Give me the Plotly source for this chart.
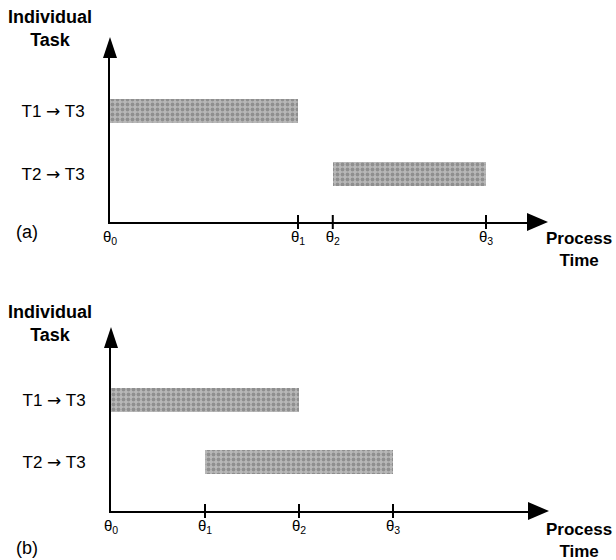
import plotly.graph_objects as go

# ---- data ----
tasks = ["T1 <span style='font-family:DejaVu Sans'>→</span> T3",
         "T2 <span style='font-family:DejaVu Sans'>→</span> T3"]
task_pos = [1, 0]
theta_labels = ["θ<sub>0</sub>", "θ<sub>1</sub>", "θ<sub>2</sub>", "θ<sub>3</sub>"]
theta_a = [0, 2, 2.37, 4]
theta_b = [0, 1, 2, 3]
start_a = [theta_a[0], theta_a[2]]
end_a = [theta_a[1], theta_a[3]]
start_b = [theta_b[0], theta_b[1]]
end_b = [theta_b[2], theta_b[3]]

W, H = 616, 560
FONT = "Liberation Sans, Arial, Helvetica, sans-serif"

def px(p):
    return p / W

def py(p):
    return 1 - p / H

fig = go.Figure()

pattern = dict(shape=".", fgcolor="#666666", bgcolor="#b8b8b8", size=5, solidity=0.45)

for starts, ends, xa, ya in [(start_a, end_a, "x", "y"), (start_b, end_b, "x2", "y2")]:
    fig.add_trace(go.Bar(
        orientation="h", y=task_pos, base=starts,
        x=[e - s for s, e in zip(starts, ends)],
        width=0.38, xaxis=xa, yaxis=ya,
        marker=dict(color="#b8b8b8", pattern=pattern, line=dict(width=0)),
        hoverinfo="skip", showlegend=False,
    ))

# panel geometry (pixels)
panels = {
    "a": dict(x0=110, x1=528, ybot=222, ytop=57, yunit=63, yrow0=174, theta=theta_a, xa="xaxis", ya="yaxis",
              xr="x", yr="y", label="(a)", label_y=232, title_y=28, pt_y=249),
    "b": dict(x0=111, x1=529, ybot=511, ytop=347, yunit=62, yrow0=462, theta=theta_b, xa="xaxis2", ya="yaxis2",
              xr="x2", yr="y2", label="(b)", label_y=548, title_y=323, pt_y=540),
}

UNIT = 94.0
shapes = []
annotations = []
for key, p in panels.items():
    fig.update_layout(**{
        p["xa"]: dict(
            domain=[px(p["x0"]), px(p["x1"])], range=[0, (p["x1"] - p["x0"]) / UNIT],
            anchor=p["yr"], showline=True, linecolor="black", linewidth=2,
            showgrid=False, zeroline=False, ticks="",
            tickvals=p["theta"], ticktext=theta_labels,
            tickfont=dict(family=FONT, size=15, color="black"), ticklabelstandoff=0,
        ),
        p["ya"]: dict(
            domain=[py(p["ybot"]), py(p["ytop"])],
            range=[-(p["ybot"] - p["yrow0"]) / p["yunit"], (p["yrow0"] - p["ytop"]) / p["yunit"]],
            anchor=p["xr"], showline=True, linecolor="black", linewidth=2,
            showgrid=False, zeroline=False, ticks="",
            tickvals=task_pos, ticktext=tasks,
            tickfont=dict(family=FONT, size=17, color="black"), ticklabelstandoff=20,
        ),
    })
    # crossing ticks at theta_1..theta_3
    for t in p["theta"][1:]:
        shapes.append(dict(type="line", xref=p["xr"], yref=p["yr"] + " domain",
                           ysizemode="pixel", yanchor=0, x0=t, x1=t, y0=-7, y1=7,
                           line=dict(color="black", width=2)))
    # arrowheads
    shapes.append(dict(type="path", xref="paper", yref="paper", xsizemode="pixel", ysizemode="pixel",
                       xanchor=px(p["x1"]), yanchor=py(p["ybot"]),
                       path="M-1,-9 L20,0 L-1,9 Z", fillcolor="black", line=dict(width=0)))
    shapes.append(dict(type="path", xref="paper", yref="paper", xsizemode="pixel", ysizemode="pixel",
                       xanchor=px(p["x0"]), yanchor=py(p["ytop"]),
                       path="M-7,-1 L0,20 L7,-1 Z", fillcolor="black", line=dict(width=0)))
    annotations.append(dict(xref="paper", yref="paper", x=px(50), y=py(p["title_y"]),
                            xanchor="center", yanchor="middle",
                            text="<b>Individual<br>Task</b>", showarrow=False, align="center",
                            font=dict(family=FONT, size=18, color="black")))
    annotations.append(dict(xref="paper", yref="paper", x=px(579), y=py(p["pt_y"]),
                            xanchor="center", yanchor="middle",
                            text="<b>Process<br>Time</b>", showarrow=False, align="center",
                            font=dict(family=FONT, size=17, color="black")))
    annotations.append(dict(xref="paper", yref="paper", x=px(27), y=py(p["label_y"]),
                            xanchor="center", yanchor="middle",
                            text=p["label"], showarrow=False,
                            font=dict(family=FONT, size=18, color="black")))

fig.update_layout(
    width=W, height=H, margin=dict(l=0, r=0, t=0, b=0, autoexpand=False),
    paper_bgcolor="white", plot_bgcolor="white",
    shapes=shapes, annotations=annotations, bargap=0,
    font=dict(family=FONT, color="black"),
)

fig.write_html("out.html", config={"displayModeBar": False},
               post_script="document.body.style.margin='0';")
